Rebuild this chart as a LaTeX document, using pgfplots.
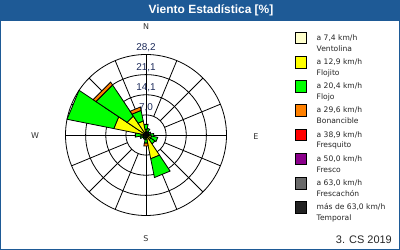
\documentclass[border=0pt]{standalone}
\usepackage{pgfplots}
\pgfplotsset{compat=1.18}
\usepackage{fontspec}
\setmainfont{Liberation Sans}
\newfontfamily\dejavu{DejaVu Sans}
\definecolor{titlebar}{HTML}{1E5A96}
\definecolor{cVent}{HTML}{FFFFCC}
\definecolor{cFlojito}{HTML}{FFFF00}
\definecolor{cFlojo}{HTML}{00FF00}
\definecolor{cBon}{HTML}{FF8000}
\definecolor{cFresquito}{HTML}{FF0000}
\definecolor{cFresco}{HTML}{8B008B}
\definecolor{cFrescachon}{HTML}{696969}
\definecolor{cTemporal}{HTML}{222222}
\definecolor{ringlab}{HTML}{1F2D5C}

% one radial segment: bearing, inner radius, outer radius, colour
\newcommand\sector[4]{%
  \pgfmathsetmacro\aA{90-#1-11.25}%
  \pgfmathsetmacro\aB{90-#1+11.25}%
  \edef\temp{\noexpand\addplot[data cs=polar, draw=black, line width=0.8bp, fill=#4, forget plot] coordinates {(\aA,#2) (\aA,#3) (\aB,#3) (\aB,#2)} -- cycle;}%
  \temp
}
% stacked sector: bearing, cumulative outer radius of Ventolina, Flojito, Flojo, Bonancible
\newcommand\stack[5]{%
  \sector{#1}{0}{#2}{cVent}%
  \sector{#1}{#2}{#3}{cFlojito}%
  \sector{#1}{#3}{#4}{cFlojo}%
  \ifdim #5pt>#4pt \sector{#1}{#4}{#5}{cBon}\fi
}
\newcommand\legentry[4]{%
  \pgfmathsetmacro\ytop{250-32.3-24.2*#1}%
  \pgfmathsetmacro\ybot{\ytop-11.5}%
  \pgfmathsetmacro\ybA{250-40.4-24.2*#1}%
  \pgfmathsetmacro\ybB{250-51.2-24.2*#1}%
  \filldraw[fill=#2, draw=black, line width=0.8bp] (295.5bp,\ytop bp) rectangle (306.5bp,\ybot bp);
  \node[anchor=base west, inner sep=0pt, font=\dejavu\fontsize{7.6}{9}\selectfont, text=black!85] at (316.5bp,\ybA bp) {#3};
  \node[anchor=base west, inner sep=0pt, font=\dejavu\fontsize{7.6}{9}\selectfont, text=black!85] at (316.5bp,\ybB bp) {#4};
}

\begin{document}
\begin{tikzpicture}
\path[use as bounding box] (0,0) rectangle (400bp,250bp);
\fill[white] (0,0) rectangle (400bp,250bp);
\fill[titlebar] (0,229.3bp) rectangle (400bp,250bp);
\draw[titlebar, line width=1bp] (0.5bp,0.5bp) rectangle (399.5bp,249.5bp);
\node[text=white, font=\bfseries\fontsize{12}{14}\selectfont] at (211bp,239.6bp) {Viento Estadística [\%]};

\begin{axis}[at={(146bp,115bp)}, anchor=center,
  x=2.8546bp, y=2.8546bp,
  xmin=-29, xmax=29, ymin=-29, ymax=29,
  axis lines=none, ticks=none, clip=false]
% grid
\draw[black, line width=0.8bp] (axis cs:0,0) circle[radius=7.05];
\draw[black, line width=0.8bp] (axis cs:0,0) circle[radius=14.1];
\draw[black, line width=0.8bp] (axis cs:0,0) circle[radius=21.15];
\draw[black, line width=0.8bp] (axis cs:0,0) circle[radius=28.2];
\pgfplotsinvokeforeach{22.5,45,67.5,112.5,135,157.5,202.5,225,247.5,292.5,315,337.5}{%
  \addplot[black, line width=0.8bp, data cs=polar, forget plot] coordinates {(#1,7.05) (#1,28.2)};}
\addplot[black, line width=0.8bp, forget plot] coordinates {(0,-28.2) (0,28.2)};
\addplot[black, line width=0.8bp, forget plot] coordinates {(-28.2,0) (28.2,0)};
% data: bearing, cumulative radii
\stack{0}{0.4}{2.0}{3.8}{0}
\stack{22.5}{0.3}{1.2}{2.4}{0}
\stack{45}{0.3}{0.8}{1.4}{0}
\stack{67.5}{0.3}{0.9}{1.8}{0}
\stack{90}{0.3}{1.5}{2.8}{0}
\stack{112.5}{0.3}{2.0}{4.2}{0}
\stack{135}{0.3}{2.0}{3.8}{0}
\stack{157.5}{0.6}{8.5}{15.2}{0}
\stack{180}{0.3}{1.5}{2.9}{3.9}
\stack{202.5}{0.3}{1.0}{1.6}{0}
\stack{225}{0.3}{0.8}{1.3}{0}
\stack{247.5}{0.3}{1.2}{2.2}{0}
\stack{270}{0.4}{1.8}{3.8}{0}
\stack{292.5}{0.6}{11.5}{28.2}{0}
\stack{315}{0.5}{8.0}{21.1}{22.3}
\stack{337.5}{0.4}{5.0}{8.8}{10.0}
% ring labels
\node[anchor=base, inner sep=0pt, text=ringlab, font=\fontsize{10}{12}\selectfont, yshift=4bp] at (axis cs:0,7.05) {7,0};
\node[anchor=base, inner sep=0pt, text=ringlab, font=\fontsize{10}{12}\selectfont, yshift=4bp] at (axis cs:0,14.1) {14,1};
\node[anchor=base, inner sep=0pt, text=ringlab, font=\fontsize{10}{12}\selectfont, yshift=4bp] at (axis cs:0,21.15) {21,1};
\node[anchor=base, inner sep=0pt, text=ringlab, font=\fontsize{10}{12}\selectfont, yshift=4bp] at (axis cs:0,28.2) {28,2};
\end{axis}

% compass letters
\node[font=\dejavu\fontsize{8}{9}\selectfont, text=black!80] at (146bp,223bp) {N};
\node[font=\dejavu\fontsize{8}{9}\selectfont, text=black!80] at (146bp,11bp) {S};
\node[font=\dejavu\fontsize{8}{9}\selectfont, text=black!80] at (256bp,113bp) {E};
\node[font=\dejavu\fontsize{8}{9}\selectfont, text=black!80] at (35bp,114bp) {W};

% legend
\legentry{0}{cVent}{a 7,4 km/h}{Ventolina}
\legentry{1}{cFlojito}{a 12,9 km/h}{Flojito}
\legentry{2}{cFlojo}{a 20,4 km/h}{Flojo}
\legentry{3}{cBon}{a 29,6 km/h}{Bonancible}
\legentry{4}{cFresquito}{a 38,9 km/h}{Fresquito}
\legentry{5}{cFresco}{a 50,0 km/h}{Fresco}
\legentry{6}{cFrescachon}{a 63,0 km/h}{Frescachón}
\legentry{7}{cTemporal}{más de 63,0 km/h}{Temporal}

\node[anchor=base east, inner sep=0pt, font=\fontsize{11}{13}\selectfont, text=black!85] at (392bp,6.8bp) {3. CS 2019};
\end{tikzpicture}
\end{document}
